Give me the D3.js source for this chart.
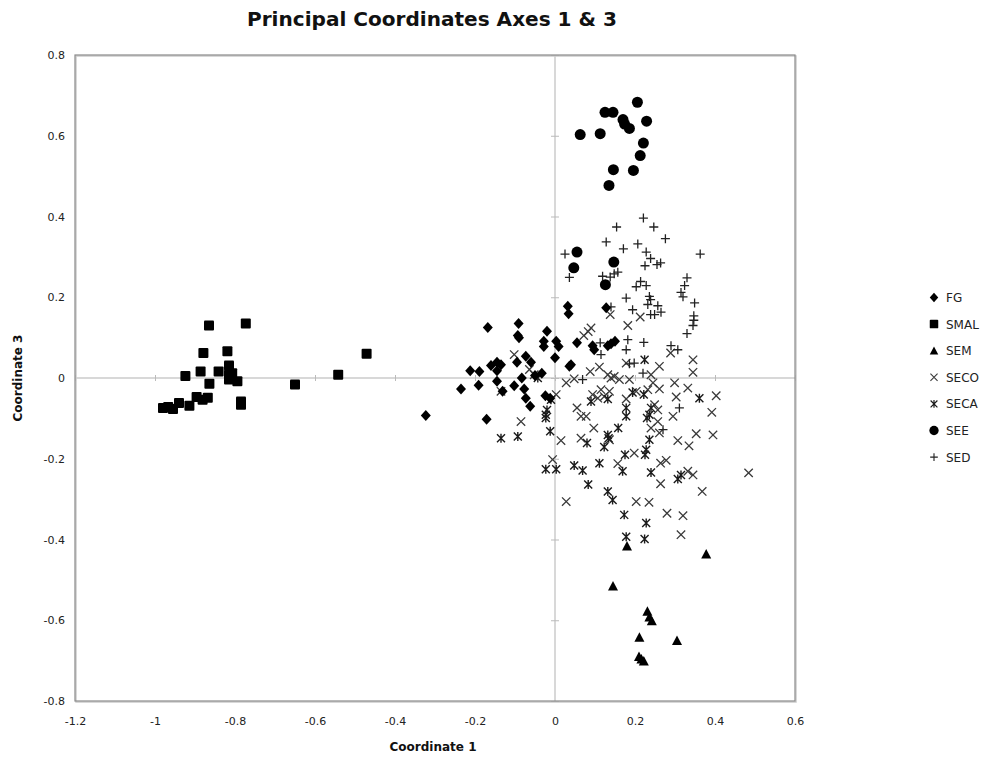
<!DOCTYPE html>
<html><head><meta charset="utf-8">
<script src="https://cdn.jsdelivr.net/npm/d3@7"></script>
<style>body{margin:0;background:#fff;} text{font-family:"DejaVu Sans",Verdana,sans-serif;}</style>
</head><body>
<svg id="c" width="996" height="760"></svg>
<script>
const xTicks = [-1.2,-1,-0.8,-0.6,-0.4,-0.2,0,0.2,0.4,0.6];
const yTicks = [-0.8,-0.6,-0.4,-0.2,0,0.2,0.4,0.6,0.8];
const seriesNames = ["FG","SMAL","SEM","SECO","SECA","SEE","SED"];

const FG = [[-0.168,0.125],[-0.091,0.135],[-0.093,0.105],[-0.090,0.100],[-0.020,0.116],[-0.028,0.091],[-0.028,0.078],[0.003,0.091],[0.009,0.078],[0.000,0.050],[0.032,0.178],[0.034,0.159],[-0.073,0.054],[-0.060,0.039],[-0.095,0.039],[-0.145,0.039],[-0.160,0.031],[-0.145,0.018],[-0.212,0.018],[-0.189,0.016],[-0.145,-0.008],[-0.191,-0.018],[-0.235,-0.027],[-0.102,-0.019],[-0.083,0.000],[-0.050,0.006],[-0.033,0.012],[-0.077,-0.027],[-0.073,-0.050],[-0.062,-0.070],[-0.024,-0.044],[-0.012,-0.050],[0.036,0.029],[-0.323,-0.093],[-0.171,-0.102],[0.055,0.087],[0.094,0.080],[0.098,0.070],[0.150,0.091],[0.140,0.085],[0.132,0.080],[0.040,0.033],[-0.131,-0.033],[-0.135,0.033],[0.128,0.174]];
const SMAL = [[-0.865,0.130],[-0.773,0.135],[-0.879,0.062],[-0.819,0.066],[-0.471,0.060],[-0.924,0.005],[-0.886,0.016],[-0.841,0.016],[-0.815,0.031],[-0.815,0.008],[-0.807,0.012],[-0.815,-0.004],[-0.794,-0.008],[-0.864,-0.014],[-0.542,0.008],[-0.650,-0.016],[-0.980,-0.074],[-0.955,-0.077],[-0.940,-0.062],[-0.914,-0.069],[-0.896,-0.047],[-0.881,-0.054],[-0.868,-0.049],[-0.785,-0.058],[-0.785,-0.066],[-0.967,-0.072]];
const SEM = [[0.145,-0.515],[0.231,-0.578],[0.236,-0.592],[0.242,-0.601],[0.211,-0.642],[0.305,-0.650],[0.210,-0.690],[0.216,-0.696],[0.222,-0.701],[0.180,-0.416],[0.378,-0.436]];
const SECO = [[0.182,0.130],[0.083,0.115],[0.072,0.105],[-0.102,0.058],[0.178,0.037],[0.261,0.029],[0.345,0.045],[0.345,0.014],[0.289,0.062],[0.111,0.027],[0.088,0.016],[0.132,0.008],[0.140,0.000],[0.148,0.004],[0.161,-0.004],[0.186,-0.004],[0.240,0.008],[0.245,-0.012],[0.299,-0.012],[0.332,-0.025],[0.403,-0.044],[0.303,-0.047],[0.261,-0.027],[0.232,-0.029],[0.203,-0.033],[0.178,-0.052],[0.115,-0.029],[0.123,-0.046],[0.107,-0.050],[0.094,-0.041],[0.136,-0.033],[0.048,-0.002],[0.028,-0.012],[0.003,-0.041],[-0.064,0.021],[-0.052,0.008],[-0.135,-0.033],[-0.085,-0.108],[0.015,-0.155],[0.055,-0.074],[0.065,-0.095],[0.078,-0.095],[0.097,-0.124],[0.065,-0.149],[0.249,-0.066],[0.257,-0.108],[0.261,-0.136],[0.295,-0.095],[0.307,-0.155],[0.353,-0.138],[0.395,-0.141],[0.392,-0.085],[0.136,-0.153],[0.335,-0.168],[0.198,-0.186],[-0.006,-0.202],[0.157,-0.212],[0.264,-0.211],[0.278,-0.204],[0.264,-0.262],[0.332,-0.231],[0.345,-0.240],[0.484,-0.235],[0.368,-0.281],[0.028,-0.306],[0.203,-0.306],[0.235,-0.308],[0.280,-0.335],[0.320,-0.341],[0.315,-0.388],[0.138,0.157],[0.213,0.151],[0.090,0.124],[0.240,-0.124],[0.257,-0.079]];
const SECA = [[0.224,0.045],[0.361,-0.050],[-0.135,-0.149],[-0.093,-0.145],[-0.023,-0.091],[-0.023,-0.099],[-0.012,-0.132],[0.132,-0.141],[0.134,-0.149],[0.158,-0.124],[0.178,-0.074],[0.178,-0.095],[0.230,-0.099],[0.236,-0.091],[0.236,-0.153],[0.080,-0.161],[0.123,-0.171],[0.228,-0.178],[0.225,-0.190],[0.175,-0.190],[-0.023,-0.226],[0.003,-0.226],[0.048,-0.217],[0.069,-0.229],[0.111,-0.211],[0.169,-0.231],[0.240,-0.234],[0.307,-0.250],[0.315,-0.240],[0.083,-0.264],[0.132,-0.281],[0.144,-0.302],[0.173,-0.339],[0.228,-0.359],[0.178,-0.393],[0.224,-0.399],[-0.020,-0.079],[0.222,-0.041],[0.240,-0.074],[0.194,-0.036],[0.132,-0.052],[0.090,-0.058],[-0.010,-0.054],[-0.043,0.000]];
const SEE = [[0.206,0.683],[0.125,0.658],[0.145,0.658],[0.170,0.640],[0.174,0.629],[0.186,0.618],[0.229,0.636],[0.063,0.603],[0.113,0.605],[0.221,0.582],[0.213,0.551],[0.146,0.516],[0.196,0.514],[0.135,0.477],[0.055,0.312],[0.047,0.273],[0.147,0.287],[0.126,0.231]];
const SED = [[0.221,0.396],[0.154,0.374],[0.247,0.374],[0.276,0.345],[0.128,0.337],[0.207,0.332],[0.171,0.320],[0.228,0.312],[0.239,0.296],[0.025,0.307],[0.363,0.307],[0.225,0.278],[0.255,0.281],[0.264,0.285],[0.157,0.262],[0.148,0.258],[0.036,0.249],[0.119,0.252],[0.138,0.250],[0.214,0.239],[0.203,0.226],[0.228,0.229],[0.330,0.248],[0.324,0.229],[0.315,0.212],[0.320,0.201],[0.178,0.198],[0.236,0.202],[0.239,0.194],[0.232,0.182],[0.349,0.186],[0.257,0.179],[0.194,0.169],[0.140,0.176],[0.265,0.163],[0.239,0.157],[0.249,0.157],[0.347,0.154],[0.347,0.143],[0.345,0.130],[0.330,0.110],[0.182,0.095],[0.178,0.070],[0.222,0.088],[0.113,0.087],[0.115,0.058],[0.290,0.080],[0.307,0.070],[0.186,0.035],[0.198,0.037],[0.220,0.012],[0.069,-0.004],[0.311,-0.074],[0.270,-0.128]];

const seriesData = {FG, SMAL, SEM, SECO, SECA, SEE, SED};

const svg = d3.select("#c");
const L = 75, R = 795, T = 55, B = 701;
const x = d3.scaleLinear().domain([-1.2, 0.6]).range([L, R]);
const y = d3.scaleLinear().domain([-0.8, 0.8]).range([B, T]);

// zero lines
svg.append("line").attr("x1", x(0)).attr("x2", x(0)).attr("y1", T).attr("y2", B)
  .attr("stroke", "#d8d8d8").attr("stroke-width", 2);
svg.append("line").attr("x1", L).attr("x2", R).attr("y1", y(0)).attr("y2", y(0))
  .attr("stroke", "#d8d8d8").attr("stroke-width", 2);
// tick marks on zero lines
const xAx = svg.append("g").attr("transform", `translate(0,${y(0)})`)
  .call(d3.axisBottom(x).tickValues(xTicks).tickSize(6).tickSizeOuter(0).tickFormat(""));
xAx.select(".domain").remove();
xAx.selectAll(".tick line").attr("y1", -3).attr("y2", 3).attr("stroke", "#bbb");
const yAx = svg.append("g").attr("transform", `translate(${x(0)},0)`)
  .call(d3.axisLeft(y).tickValues(yTicks).tickSize(6).tickSizeOuter(0).tickFormat(""));
yAx.select(".domain").remove();
yAx.selectAll(".tick line").attr("x1", -4).attr("x2", 4).attr("stroke", "#bbb");

// frame
svg.append("rect").attr("x", L + 1).attr("y", T + 1).attr("width", R - L).attr("height", B - T)
  .attr("fill", "none").attr("stroke", "#ccc").attr("stroke-width", 1.5);
svg.append("rect").attr("x", L).attr("y", T).attr("width", R - L).attr("height", B - T)
  .attr("fill", "none").attr("stroke", "#8a8a8a").attr("stroke-width", 1.2);

// tick labels
const fmt = v => (v === 0 ? "0" : String(v));
const xl = svg.append("g").attr("transform", `translate(0,${B})`)
  .call(d3.axisBottom(x).tickValues(xTicks).tickSize(0).tickPadding(16).tickFormat(fmt));
xl.select(".domain").remove();
xl.selectAll("text").attr("font-size", 11).attr("fill", "#222").attr("font-family", "DejaVu Sans");
const yl = svg.append("g").attr("transform", `translate(${L},0)`)
  .call(d3.axisLeft(y).tickValues(yTicks).tickSize(0).tickPadding(10).tickFormat(fmt));
yl.select(".domain").remove();
yl.selectAll("text").attr("font-size", 11).attr("fill", "#222").attr("font-family", "DejaVu Sans");

// titles
svg.append("text").attr("x", 432).attr("y", 26).attr("text-anchor", "middle")
  .attr("font-size", 19).attr("font-weight", "bold").attr("fill", "#111")
  .attr("textLength", 370).attr("lengthAdjust", "spacingAndGlyphs")
  .text("Principal Coordinates Axes 1 & 3");
svg.append("text").attr("x", 433).attr("y", 751).attr("text-anchor", "middle")
  .attr("font-size", 12).attr("font-weight", "bold").attr("fill", "#111").text("Coordinate 1");
svg.append("text").attr("transform", "translate(22,378) rotate(-90)").attr("text-anchor", "middle")
  .attr("font-size", 12).attr("font-weight", "bold").attr("fill", "#111").text("Coordinate 3");

// marker definitions
const markers = {
  FG:   g => g.append("path").attr("d", "M0,-5.5L5,0L0,5.5L-5,0Z").attr("fill", "#000"),
  SMAL: g => g.append("rect").attr("x", -5).attr("y", -5).attr("width", 10).attr("height", 10).attr("rx", 1).attr("fill", "#000"),
  SEM:  g => g.append("path").attr("d", "M0,-5L5,4.5L-5,4.5Z").attr("fill", "#000"),
  SECO: g => g.append("path").attr("d", "M-4.2,-4.2L4.2,4.2M-4.2,4.2L4.2,-4.2").attr("stroke", "#3a3a3a").attr("stroke-width", 1.3).attr("fill", "none"),
  SECA: g => g.append("path").attr("d", "M-4,-4L4,4M-4,4L4,-4M0,-4.5L0,4.5").attr("stroke", "#1a1a1a").attr("stroke-width", 1.4).attr("fill", "none"),
  SEE:  g => g.append("circle").attr("r", 5.5).attr("fill", "#000"),
  SED:  g => g.append("path").attr("d", "M-4.5,0L4.5,0M0,-4.5L0,4.5").attr("stroke", "#222").attr("stroke-width", 1.3).attr("fill", "none")
};

const drawOrder = ["SECO", "SECA", "SED", "SEE", "SEM", "SMAL", "FG"];
drawOrder.forEach(name => {
  svg.append("g").selectAll("g").data(seriesData[name]).join("g")
    .attr("transform", d => `translate(${x(d[0])},${y(d[1])})`)
    .each(function () { markers[name](d3.select(this)); });
});

// legend
const leg = svg.append("g");
seriesNames.forEach((name, i) => {
  const gy = 297.5 + i * 26.6;
  const g = leg.append("g").attr("transform", `translate(934,${gy})`);
  g.append("g").attr("transform", "scale(0.85)").call(markers[name]);
  leg.append("text").attr("x", 946).attr("y", gy + 4.5).attr("font-size", 12).attr("fill", "#222")
    .text(name);
});
</script>
</body></html>
